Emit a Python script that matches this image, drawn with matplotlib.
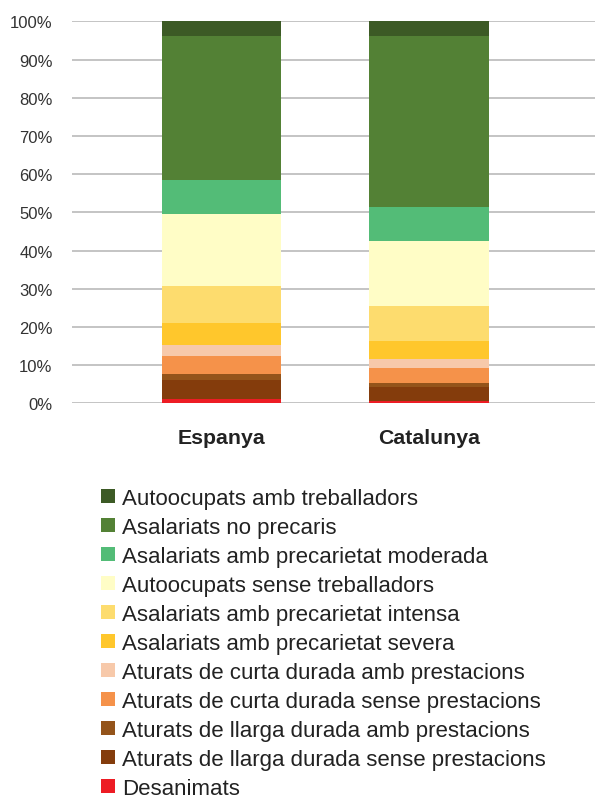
import matplotlib
matplotlib.use("Agg")
import matplotlib.pyplot as plt
from matplotlib.patches import Patch
import numpy as np

plt.rcParams['font.family'] = ['Liberation Sans', 'DejaVu Sans']

categories = ["Espanya", "Catalunya"]
# series listed bottom -> top
series_names = [
    "Desanimats",
    "Aturats de llarga durada sense prestacions",
    "Aturats de llarga durada amb prestacions",
    "Aturats de curta durada sense prestacions",
    "Aturats de curta durada amb prestacions",
    "Asalariats amb precarietat severa",
    "Asalariats amb precarietat intensa",
    "Autoocupats sense treballadors",
    "Asalariats amb precarietat moderada",
    "Asalariats no precaris",
    "Autoocupats amb treballadors",
]
espanya = [1.1, 5.0, 1.6, 4.7, 2.9, 5.7, 9.7, 18.9, 8.8, 37.8, 3.8]
catalunya = [0.6, 3.7, 1.0, 3.9, 2.4, 4.7, 9.2, 17.0, 8.9, 44.8, 3.8]
colors = ["#ED1C24", "#843C0C", "#94541A", "#F5924A", "#F7C9AA", "#FFC72C",
          "#FDDC6E", "#FFFDC6", "#53BC77", "#538135", "#3C5A25"]
yticks = [0, 10, 20, 30, 40, 50, 60, 70, 80, 90, 100]

fig = plt.figure(figsize=(5.95, 8.03), dpi=100)
ax = fig.add_axes([0.121, 0.4965, 0.879, 0.4757])

vals = np.array([espanya, catalunya])
x = np.arange(len(categories))
bottom = np.zeros(len(categories))
for i, name in enumerate(series_names):
    ax.bar(x, vals[:, i], bottom=bottom, width=0.577, color=colors[i], zorder=3, linewidth=0)
    bottom += vals[:, i]

ax.set_xlim(-0.721, 1.80)
ax.set_ylim(0, 100)
ax.set_yticks(yticks)
ax.set_yticklabels([f"{t}%" for t in yticks], fontsize=12, color="#333333")
ax.yaxis.grid(True, color="#BFBFBF", linewidth=1.3, zorder=0)
ax.tick_params(axis='y', length=0, pad=14)
ax.tick_params(axis='x', length=0, pad=18)
ax.set_xticks(x)
ax.set_xticklabels(categories, fontsize=15.3, fontweight='bold', color="#222222")
for s in ax.spines.values():
    s.set_visible(False)

handles = [Patch(facecolor=colors[i], edgecolor='none', label=series_names[i])
           for i in range(len(series_names) - 1, -1, -1)]
fig.legend(handles=handles, loc='upper left', bbox_to_anchor=(0.170, 0.391),
           frameon=False, fontsize=16, handlelength=0.63, handleheight=0.63,
           handletextpad=0.32, labelspacing=0.36, borderaxespad=0, borderpad=0,
           labelcolor="#222222")

fig.savefig("out.png", dpi=100)
